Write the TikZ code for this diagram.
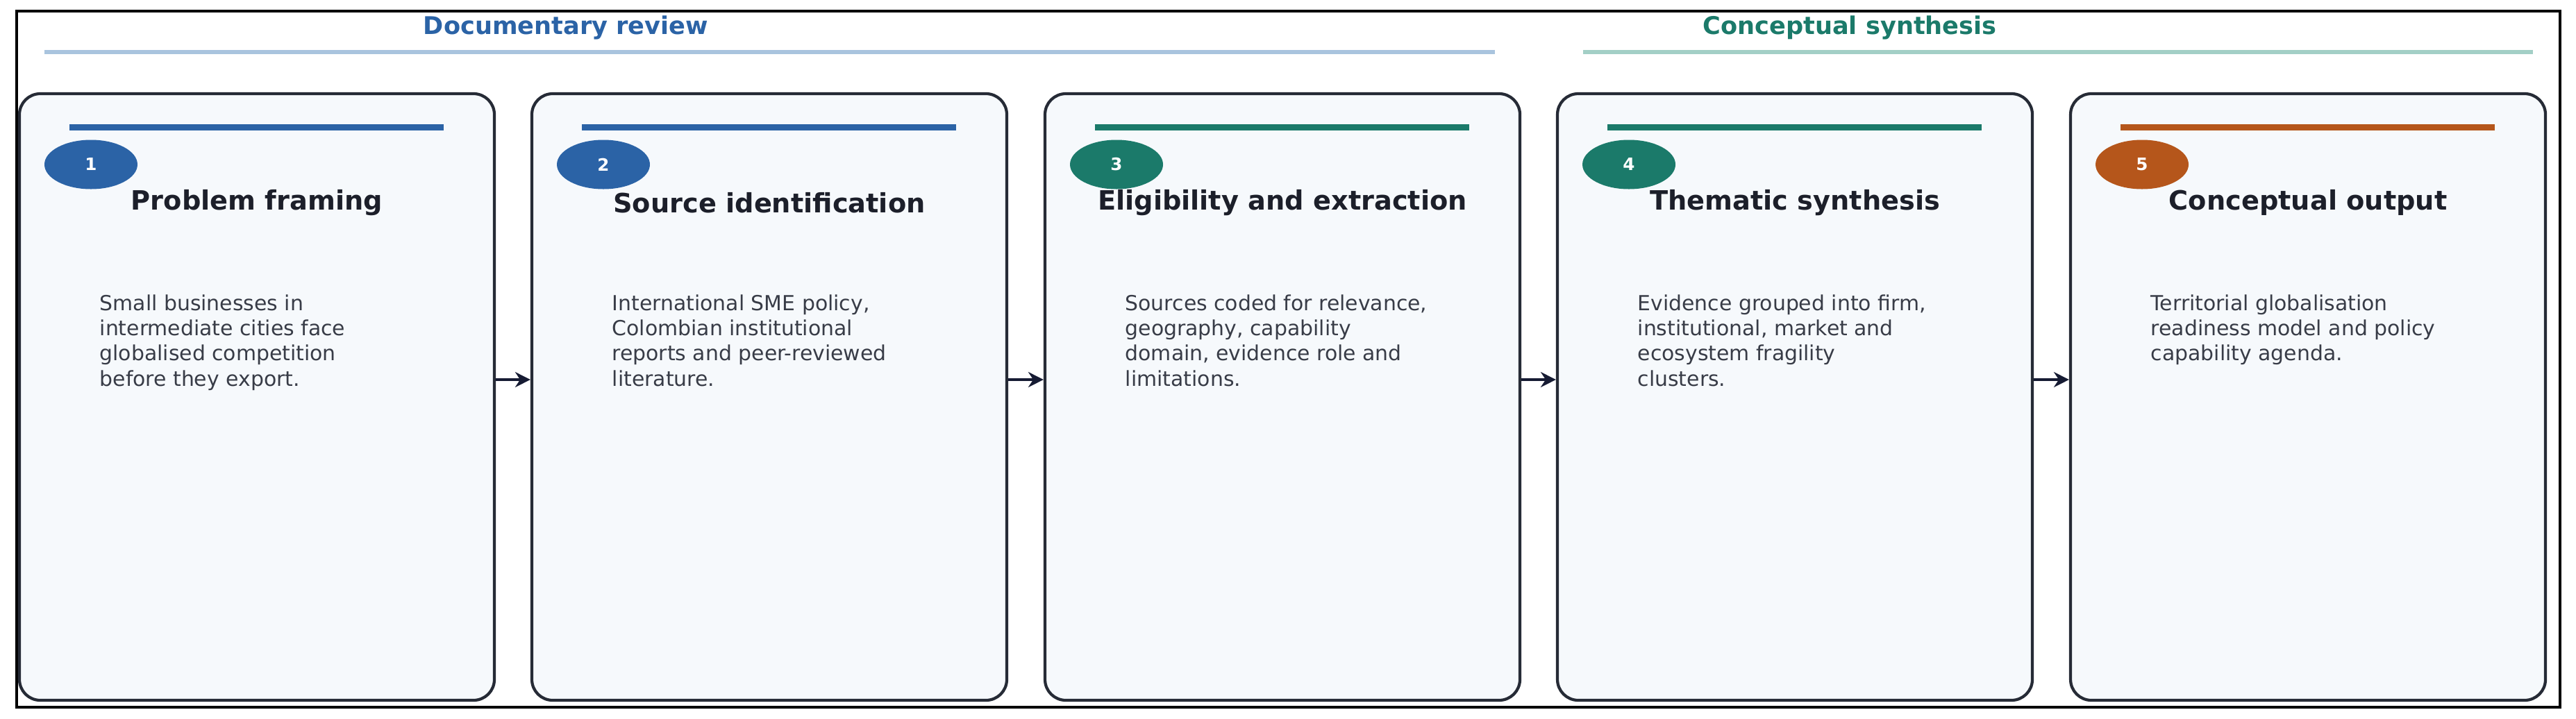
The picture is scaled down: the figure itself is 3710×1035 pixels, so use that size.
\documentclass[tikz,border=0pt]{standalone}
\usepackage{fontspec}
\setmainfont{DejaVu Sans}
\usepackage{tikz}
\usetikzlibrary{arrows.meta, positioning, calc, shapes.geometric}
\definecolor{stblue}{HTML}{2B63A6}
\definecolor{stteal}{HTML}{1B7A6A}
\definecolor{storange}{HTML}{B5561B}
\definecolor{hdblue}{HTML}{A9C4DE}
\definecolor{hdteal}{HTML}{A3CFC6}
\definecolor{boxfill}{HTML}{F6F9FC}
\definecolor{boxline}{HTML}{262B36}
\definecolor{titlecol}{HTML}{1C1F2A}
\definecolor{bodycol}{HTML}{383C47}
\definecolor{arrowcol}{HTML}{161B33}

\begin{document}
\begin{tikzpicture}[x=0.1mm, y=-0.1mm,
        stage/.style={rectangle, rounded corners=3mm, draw=boxline, line width=1.2pt, fill=boxfill, minimum width=68.4mm, minimum height=87.4mm},
        badge/.style={ellipse, minimum width=13.4mm, minimum height=7.1mm, inner sep=0pt, text=white, font=\bfseries\fontsize{7}{8}\selectfont},
        ttl/.style={font=\bfseries\fontsize{10.9}{12}\selectfont, text=titlecol, inner sep=0pt},
        body/.style={anchor=north west, align=left, inner sep=0pt, font=\fontsize{8.5}{10.3}\selectfont, text=bodycol},
        bar/.style={line width=0.9mm},
        flow/.style={-{Stealth[length=2.2mm, width=2.2mm]}, line width=0.9pt, draw=arrowcol},
        phase/.style={font=\bfseries\fontsize{10}{12}\selectfont}]
        \useasboundingbox (0,0) rectangle (3710,1035);
        \draw[line width=0.4mm] (24,16) rectangle (3687,1019);

        % Phases
        \node[phase, text=stblue] (pdoc) at (815,40) {Documentary review};
        \draw[hdblue, line width=0.6mm] (64,75) -- (2153,75);
        \node[phase, text=stteal] (pcon) at (2664,40) {Conceptual synthesis};
        \draw[hdteal, line width=0.6mm] (2280,75) -- (3648,75);

        % Stage 1
        \node[stage] (s1) at (370,572) {};
        \draw[bar, stblue] (100,183) -- (639,183);
        \node[badge, fill=stblue] (n1) at (131,237) {1};
        \node[ttl] (t1) at (370,292) {Problem framing};
        \node[body] (b1) at (143,424) {Small businesses in\\intermediate cities face\\globalised competition\\before they export.};

        % Stage 2
        \node[stage] (s2) at (1108,572) {};
        \draw[bar, stblue] (838,183) -- (1377,183);
        \node[badge, fill=stblue] (n2) at (869,237) {2};
        \node[ttl] (t2) at (1108,292) {Source identification};
        \node[body] (b2) at (881,424) {International SME policy,\\Colombian institutional\\reports and peer-reviewed\\literature.};

        % Stage 3
        \node[stage] (s3) at (1847,572) {};
        \draw[bar, stteal] (1577,183) -- (2116,183);
        \node[badge, fill=stteal] (n3) at (1608,237) {3};
        \node[ttl] (t3) at (1847,292) {Eligibility and extraction};
        \node[body] (b3) at (1620,424) {Sources coded for relevance,\\geography, capability\\domain, evidence role and\\limitations.};

        % Stage 4
        \node[stage] (s4) at (2585,572) {};
        \draw[bar, stteal] (2315,183) -- (2854,183);
        \node[badge, fill=stteal] (n4) at (2346,237) {4};
        \node[ttl] (t4) at (2585,292) {Thematic synthesis};
        \node[body] (b4) at (2358,424) {Evidence grouped into firm,\\institutional, market and\\ecosystem fragility\\clusters.};

        % Stage 5
        \node[stage] (s5) at (3324,572) {};
        \draw[bar, storange] (3054,183) -- (3593,183);
        \node[badge, fill=storange] (n5) at (3085,237) {5};
        \node[ttl] (t5) at (3324,292) {Conceptual output};
        \node[body] (b5) at (3097,424) {Territorial globalisation\\readiness model and policy\\capability agenda.};

        % Flow
        \draw[flow] ([yshift=2.5mm]s1.east) -- ([yshift=2.5mm]s2.west);
        \draw[flow] ([yshift=2.5mm]s2.east) -- ([yshift=2.5mm]s3.west);
        \draw[flow] ([yshift=2.5mm]s3.east) -- ([yshift=2.5mm]s4.west);
        \draw[flow] ([yshift=2.5mm]s4.east) -- ([yshift=2.5mm]s5.west);
    \end{tikzpicture}
\end{document}
